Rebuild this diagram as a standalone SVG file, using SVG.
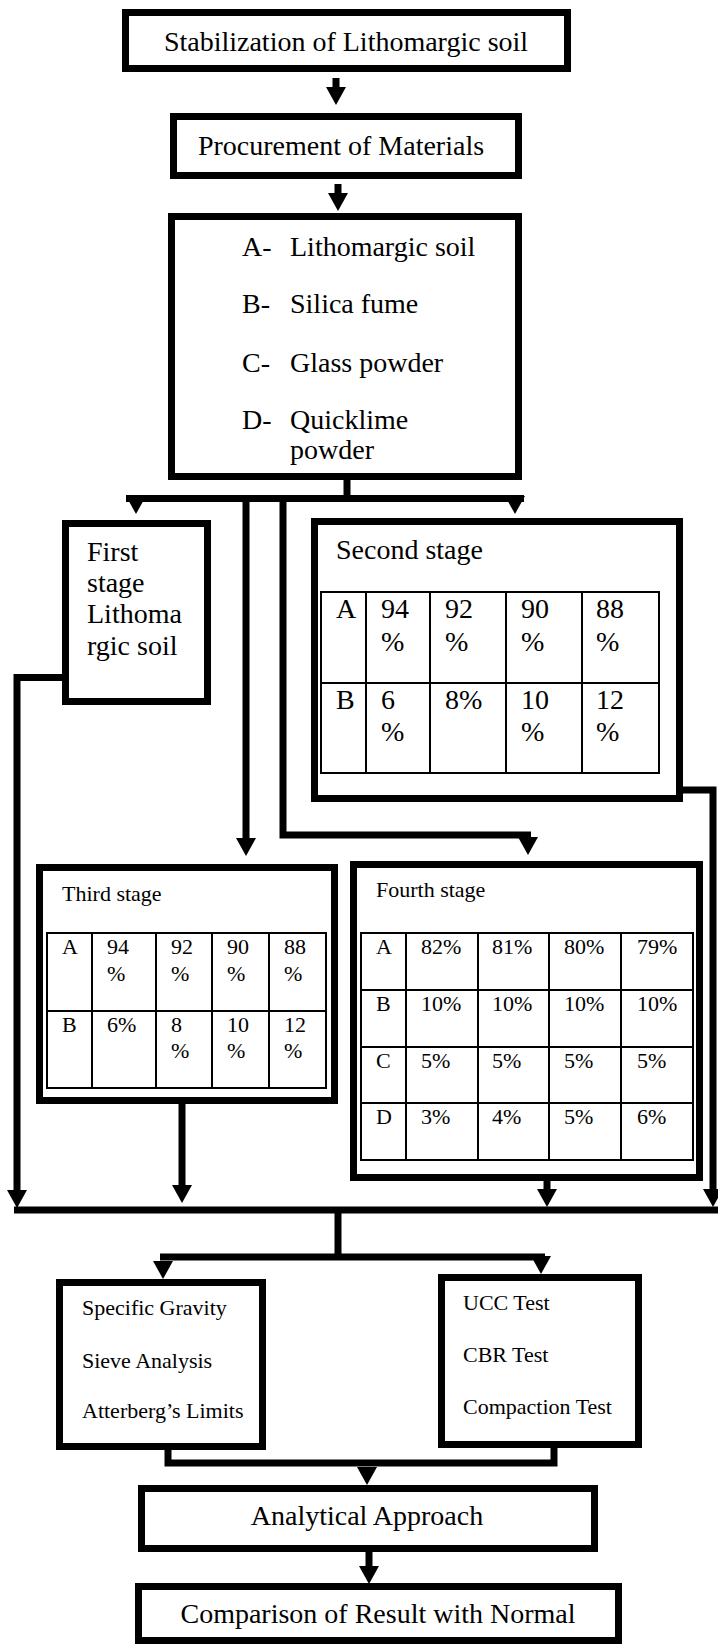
<svg xmlns="http://www.w3.org/2000/svg" xmlns:xlink="http://www.w3.org/1999/xlink" width="718" height="1644" viewBox="0 0 718 1644">
<style>
.box{fill:#fff;stroke:#000;stroke-width:7}
.tbl{fill:none;stroke:#000;stroke-width:2}
.con{fill:none;stroke:#000;stroke-width:7;stroke-linejoin:miter}
.t28{font-family:"Liberation Serif","Times New Roman",serif;font-size:28px;fill:#000}
.t22{font-family:"Liberation Serif","Times New Roman",serif;font-size:22px;fill:#000}
.mid{text-anchor:middle}
</style>
<defs>
<path id="ah" d="M-10,-18 L10,-18 L0,0 Z" fill="#000"/>
</defs>
<rect width="718" height="1644" fill="#fff"/>

<g id="connectors">
<line class="con" x1="336" y1="78" x2="336" y2="89"/>
<use xlink:href="#ah" href="#ah" x="336" y="105"/>
<line class="con" x1="338" y1="184" x2="338" y2="195"/>
<use xlink:href="#ah" href="#ah" x="338" y="211"/>
<line class="con" x1="347" y1="480" x2="347" y2="498"/>
<line class="con" x1="126" y1="498.5" x2="524" y2="498.5"/>
<use xlink:href="#ah" href="#ah" x="136" y="514"/>
<use xlink:href="#ah" href="#ah" x="515" y="514"/>
<line class="con" x1="246" y1="498" x2="246" y2="840"/>
<use xlink:href="#ah" href="#ah" x="246" y="856"/>
<path class="con" d="M283,502 V835 H531"/>
<use xlink:href="#ah" href="#ah" x="528" y="855"/>
<path class="con" d="M62,677.5 H17 V1192"/>
<use xlink:href="#ah" href="#ah" x="17" y="1208"/>
<path class="con" d="M683,790 H713 V1192"/>
<use xlink:href="#ah" href="#ah" x="713" y="1207"/>
<line class="con" x1="182" y1="1104" x2="182" y2="1188"/>
<use xlink:href="#ah" href="#ah" x="182" y="1203"/>
<line class="con" x1="547" y1="1181" x2="547" y2="1192"/>
<use xlink:href="#ah" href="#ah" x="547" y="1207"/>
<line class="con" x1="14" y1="1210" x2="718" y2="1210"/>
<line class="con" x1="338" y1="1210" x2="338" y2="1257"/>
<line class="con" x1="160" y1="1257" x2="545" y2="1257"/>
<use xlink:href="#ah" href="#ah" x="163" y="1279"/>
<use xlink:href="#ah" href="#ah" x="541" y="1274"/>
<path class="con" d="M168,1450 V1463 H554 V1448"/>
<use xlink:href="#ah" href="#ah" x="367" y="1485"/>
<line class="con" x1="369" y1="1552" x2="369" y2="1568"/>
<use xlink:href="#ah" href="#ah" x="369" y="1584"/>
</g>

<g id="title">
<rect class="box" x="125.5" y="12.5" width="442" height="56"/>
<text class="t28 mid" x="346" y="51">Stabilization of Lithomargic soil</text>
</g>

<g id="procurement">
<rect class="box" x="173.5" y="116.5" width="345" height="59"/>
<text class="t28 mid" x="341" y="155">Procurement of Materials</text>
</g>

<g id="materials">
<rect class="box" x="171.5" y="216.5" width="347" height="260"/>
<text class="t28" x="242" y="256">A-</text><text class="t28" x="290" y="256">Lithomargic soil</text>
<text class="t28" x="242" y="313">B-</text><text class="t28" x="290" y="313">Silica fume</text>
<text class="t28" x="242" y="372">C-</text><text class="t28" x="290" y="372">Glass powder</text>
<text class="t28" x="242" y="429">D-</text><text class="t28" x="290" y="429">Quicklime</text>
<text class="t28" x="290" y="459">powder</text>
</g>

<g id="first-stage">
<rect class="box" x="65.5" y="523.5" width="142" height="178"/>
<text class="t28" x="87" y="561">First</text>
<text class="t28" x="87" y="592">stage</text>
<text class="t28" x="87" y="623">Lithoma</text>
<text class="t28" x="87" y="655">rgic soil</text>
</g>

<g id="second-stage">
<rect class="box" x="314.5" y="521.5" width="365" height="277"/>
<text class="t28" x="336" y="559">Second stage</text>
<rect class="tbl" x="321" y="592" width="338" height="181"/>
<path class="tbl" d="M321,683 H659 M366,592 V773 M430,592 V773 M506,592 V773 M582,592 V773"/>
<text class="t28" x="336" y="618">A</text>
<text class="t28" x="381" y="618">94</text><text class="t28" x="381" y="651">%</text>
<text class="t28" x="445" y="618">92</text><text class="t28" x="445" y="651">%</text>
<text class="t28" x="521" y="618">90</text><text class="t28" x="521" y="651">%</text>
<text class="t28" x="596" y="618">88</text><text class="t28" x="596" y="651">%</text>
<text class="t28" x="336" y="709">B</text>
<text class="t28" x="381" y="709">6</text><text class="t28" x="381" y="741">%</text>
<text class="t28" x="445" y="709">8%</text>
<text class="t28" x="521" y="709">10</text><text class="t28" x="521" y="741">%</text>
<text class="t28" x="596" y="709">12</text><text class="t28" x="596" y="741">%</text>
</g>

<g id="third-stage">
<rect class="box" x="39.5" y="867.5" width="295" height="233"/>
<text class="t22" x="62" y="901">Third stage</text>
<rect class="tbl" x="47" y="933" width="279" height="155"/>
<path class="tbl" d="M47,1011 H326 M92,933 V1088 M156,933 V1088 M212,933 V1088 M269,933 V1088"/>
<text class="t22" x="62" y="954">A</text>
<text class="t22" x="107" y="954">94</text><text class="t22" x="107" y="981">%</text>
<text class="t22" x="171" y="954">92</text><text class="t22" x="171" y="981">%</text>
<text class="t22" x="227" y="954">90</text><text class="t22" x="227" y="981">%</text>
<text class="t22" x="284" y="954">88</text><text class="t22" x="284" y="981">%</text>
<text class="t22" x="62" y="1032">B</text>
<text class="t22" x="107" y="1032">6%</text>
<text class="t22" x="171" y="1032">8</text><text class="t22" x="171" y="1058">%</text>
<text class="t22" x="227" y="1032">10</text><text class="t22" x="227" y="1058">%</text>
<text class="t22" x="284" y="1032">12</text><text class="t22" x="284" y="1058">%</text>
</g>

<g id="fourth-stage">
<rect class="box" x="353.5" y="864.5" width="346" height="313"/>
<text class="t22" x="376" y="897">Fourth stage</text>
<rect class="tbl" x="361" y="933" width="332" height="227"/>
<path class="tbl" d="M361,990 H693 M361,1047 H693 M361,1103 H693 M406,933 V1160 M478,933 V1160 M549,933 V1160 M621,933 V1160"/>
<text class="t22" x="376" y="954">A</text>
<text class="t22" x="421" y="954">82%</text><text class="t22" x="492" y="954">81%</text><text class="t22" x="564" y="954">80%</text><text class="t22" x="637" y="954">79%</text>
<text class="t22" x="376" y="1011">B</text>
<text class="t22" x="421" y="1011">10%</text><text class="t22" x="492" y="1011">10%</text><text class="t22" x="564" y="1011">10%</text><text class="t22" x="637" y="1011">10%</text>
<text class="t22" x="376" y="1068">C</text>
<text class="t22" x="421" y="1068">5%</text><text class="t22" x="492" y="1068">5%</text><text class="t22" x="564" y="1068">5%</text><text class="t22" x="637" y="1068">5%</text>
<text class="t22" x="376" y="1124">D</text>
<text class="t22" x="421" y="1124">3%</text><text class="t22" x="492" y="1124">4%</text><text class="t22" x="564" y="1124">5%</text><text class="t22" x="637" y="1124">6%</text>
</g>

<g id="physical-tests">
<rect class="box" x="59.5" y="1282.5" width="203" height="164"/>
<text class="t22" x="82" y="1315">Specific Gravity</text>
<text class="t22" x="82" y="1368">Sieve Analysis</text>
<text class="t22" x="82" y="1418">Atterberg’s Limits</text>
</g>

<g id="strength-tests">
<rect class="box" x="441.5" y="1277.5" width="197" height="167"/>
<text class="t22" x="463" y="1310">UCC Test</text>
<text class="t22" x="463" y="1362">CBR Test</text>
<text class="t22" x="463" y="1414">Compaction Test</text>
</g>

<g id="analytical">
<rect class="box" x="141.5" y="1488.5" width="453" height="60"/>
<text class="t28 mid" x="367" y="1525">Analytical Approach</text>
</g>

<g id="comparison">
<rect class="box" x="138.5" y="1586.5" width="480" height="54"/>
<text class="t28 mid" x="378" y="1623">Comparison of Result with Normal</text>
</g>
</svg>
